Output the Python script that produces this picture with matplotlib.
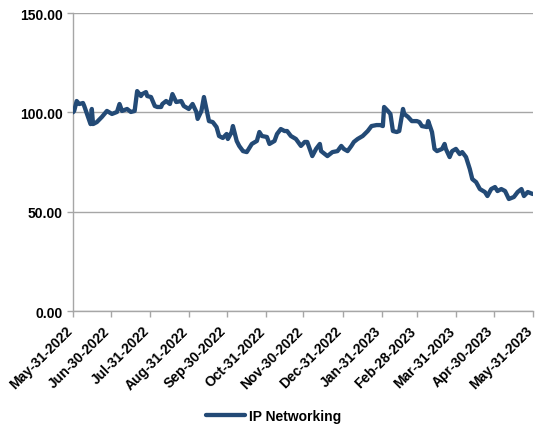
import datetime as dt
import matplotlib
matplotlib.use("Agg")
import matplotlib.pyplot as plt
import matplotlib.dates as mdates
from matplotlib.transforms import ScaledTranslation

plt.rcParams['font.family'] = ['Liberation Sans', 'DejaVu Sans']

series_name = "IP Networking"
start_date = dt.date(2022, 5, 31)

# days elapsed since start_date, and the index level on that day
day_offsets = [
    0, 1, 3, 5, 8, 9, 12, 14, 15, 16, 19, 23, 27, 31, 35, 37, 39, 43, 46, 49,
    51, 54, 55, 58, 59, 62, 65, 67, 70, 71, 74, 77, 79, 82, 86, 88, 92, 95, 98, 99,
    102, 104, 106, 108, 111, 114, 116, 119, 122, 123, 126, 127, 130, 132, 135, 138, 142, 146, 148, 150,
    154, 156, 160, 162, 165, 168, 170, 173, 177, 181, 184, 186, 190, 193, 196, 197, 200, 202, 206, 210,
    213, 215, 218, 221, 223, 226, 230, 234, 237, 241, 244, 246, 247, 250, 252, 254, 257, 259, 262, 263,
    266, 269, 273, 275, 277, 281, 282, 285, 287, 289, 293, 295, 296, 299, 301, 304, 307, 309, 312, 315,
    317, 320, 323, 327, 329, 332, 335, 337, 340, 343, 346, 350, 353, 356, 358, 361, 365,
]
values = [
    100.0, 100.7, 105.7, 104.2, 104.7, 103.2, 97.7, 94.1, 101.7, 94.1, 95.1, 97.7, 100.7, 99.2, 100.2, 104.2, 100.7, 101.7, 100.2, 100.7,
    110.7, 108.2, 109.2, 110.2, 108.2, 107.7, 103.2, 102.7, 102.7, 104.2, 105.7, 104.2, 109.2, 105.2, 105.7, 103.2, 101.7, 104.2, 100.2, 96.7,
    100.7, 107.7, 101.7, 95.6, 95.1, 92.6, 88.1, 87.1, 89.1, 86.6, 90.1, 93.1, 85.6, 83.1, 80.5, 80.0, 84.1, 85.6, 90.1, 88.1,
    87.6, 84.1, 85.6, 89.1, 91.6, 90.6, 90.6, 88.1, 86.6, 83.1, 85.1, 85.1, 78.0, 81.6, 84.1, 80.5, 79.0, 78.0, 80.0, 80.5,
    83.1, 81.6, 80.5, 83.1, 85.1, 86.6, 88.1, 90.6, 93.1, 93.6, 93.6, 93.1, 102.7, 100.7, 99.2, 90.6, 90.1, 90.6, 101.7, 99.2,
    97.7, 95.6, 95.6, 95.1, 93.1, 92.6, 95.6, 90.1, 81.6, 80.5, 81.6, 84.1, 81.6, 77.5, 80.5, 81.6, 79.0, 80.0, 77.5, 71.5,
    66.4, 64.9, 61.4, 59.9, 57.9, 61.4, 62.4, 60.4, 61.4, 60.4, 56.4, 57.4, 59.9, 61.4, 57.9, 59.9, 58.9,
]

tick_dates = [
    dt.date(2022, 5, 31), dt.date(2022, 6, 30), dt.date(2022, 7, 31), dt.date(2022, 8, 31),
    dt.date(2022, 9, 30), dt.date(2022, 10, 31), dt.date(2022, 11, 30), dt.date(2022, 12, 31),
    dt.date(2023, 1, 31), dt.date(2023, 2, 28), dt.date(2023, 3, 31), dt.date(2023, 4, 30),
    dt.date(2023, 5, 31),
]
y_ticks = [0, 50, 100, 150]

dates = [start_date + dt.timedelta(days=d) for d in day_offsets]

line_color = "#234a76"
grid_color = "#a6a6a6"

fig = plt.figure(figsize=(5.36, 4.31), dpi=100)
ax = fig.add_axes([0.136, 0.276, 0.858, 0.6915])

ax.plot(dates, values, color=line_color, linewidth=3.1, solid_joinstyle='round',
        solid_capstyle='round', label=series_name, zorder=3)

ax.set_xlim(tick_dates[0], tick_dates[-1])
ax.set_ylim(0, 150)
ax.set_yticks(y_ticks)
ax.yaxis.set_major_formatter(plt.FuncFormatter(lambda v, p: f"{v:.2f}"))
ax.set_xticks(tick_dates)
ax.xaxis.set_major_formatter(mdates.DateFormatter("%b-%d-%Y"))

ax.grid(axis='y', color=grid_color, linewidth=1.0, zorder=0)
for side in ('top', 'right'):
    ax.spines[side].set_visible(False)
for side in ('left', 'bottom'):
    ax.spines[side].set_color(grid_color)
    ax.spines[side].set_linewidth(1.0)

ax.tick_params(axis='both', colors=grid_color, length=4, width=1.0, direction='out')
ax.tick_params(axis='both', labelcolor='black', labelsize=10)
for lbl in ax.get_yticklabels():
    lbl.set_fontweight('bold')
shift = ScaledTranslation(-3 / 100, -7 / 100, fig.dpi_scale_trans)
for lbl in ax.get_xticklabels():
    lbl.set_fontweight('bold')
    lbl.set_rotation(45)
    lbl.set_ha('right')
    lbl.set_va('center')
    lbl.set_rotation_mode('anchor')
    lbl.set_transform(lbl.get_transform() + shift)

fig.legend(loc='center', bbox_to_anchor=(0.51, 0.032), frameon=False,
           handlelength=2.8, handletextpad=0.3,
           prop={'weight': 'bold', 'size': 10})

fig.savefig("out.png", dpi=100)
